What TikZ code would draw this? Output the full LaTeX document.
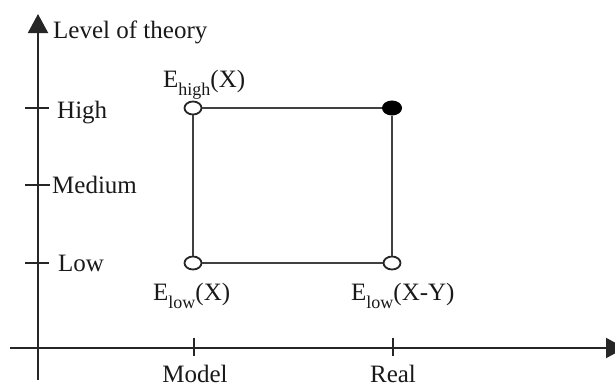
\documentclass[tikz,border=0pt]{standalone}
\usepackage{fontspec}
\setmainfont{Liberation Serif}
\usepackage{graphicx}
\usetikzlibrary{arrows.meta,shapes.geometric}
\newcommand{\mysub}[1]{\raisebox{-8pt}{\fontsize{18}{18}\selectfont #1}}
\tikzset{
  axis/.style={line width=2pt, draw=black!85},
  tick/.style={line width=1.8pt, draw=black!85},
  box/.style={line width=1.8pt, draw=black!75},
  opn/.style={ellipse, draw=black!85, line width=1.8pt, fill=white, minimum width=17pt, minimum height=13pt, inner sep=0pt},
  fil/.style={ellipse, draw=black, fill=black, line width=1pt, minimum width=19pt, minimum height=14pt, inner sep=0pt},
  lbl/.style={font=\fontsize{25}{29}\selectfont, inner sep=0pt, text=black!90},
}
\begin{document}
\begin{tikzpicture}[x=1pt,y=-1pt]
\useasboundingbox (0,0) rectangle (615,386);
% axes
\coordinate (vbot) at (38,380);
\coordinate (vtop) at (38,14);
\coordinate (hleft) at (10,348);
\coordinate (hright) at (625,348);
\draw[axis, -{Triangle[length=19pt,width=20pt]}] (vbot) -- (vtop);
\draw[axis, -{Triangle[length=19pt,width=20pt]}] (hleft) -- (hright);
% y ticks
\coordinate (th1) at (25,108); \coordinate (th2) at (49,108);
\coordinate (tm1) at (25,185); \coordinate (tm2) at (50,185);
\coordinate (tl1) at (25,263); \coordinate (tl2) at (49,263);
\draw[tick] (th1) -- (th2);
\draw[tick] (tm1) -- (tm2);
\draw[tick] (tl1) -- (tl2);
% x ticks
\coordinate (tx1) at (194,338); \coordinate (tx2) at (194,356);
\coordinate (tr1) at (393,338); \coordinate (tr2) at (393,356);
\draw[tick] (tx1) -- (tx2);
\draw[tick] (tr1) -- (tr2);
% labels
\node[lbl, anchor=base west] (lev) at (53,38) {Level of theory};
\node[lbl, anchor=base west] (high) at (57,118) {High};
\node[lbl, anchor=base west] (med) at (52,193) {Medium};
\node[lbl, anchor=base west] (low) at (58,271) {Low};
\node[lbl, anchor=base] (model) at (195,382) {Model};
\node[lbl, anchor=base] (real) at (393,382) {Real};
% box
\node[opn] (hx) at (193,108) {};
\node[fil] (hr) at (392,108) {};
\node[opn] (lx) at (193,263) {};
\node[opn] (lr) at (392,263) {};
\draw[box] (hx) -- (hr);
\draw[box] (hr) -- (lr);
\draw[box] (hx) -- (lx);
\draw[box] (lx) -- (lr);
% energy labels
\node[lbl, anchor=base west] (eh) at (163,87) {E\mysub{high}(X)};
\node[lbl, anchor=base west] (el) at (153,300) {E\mysub{low}(X)};
\node[lbl, anchor=base west] (ely) at (351,300) {E\mysub{low}(X-Y)};
\end{tikzpicture}
\end{document}
